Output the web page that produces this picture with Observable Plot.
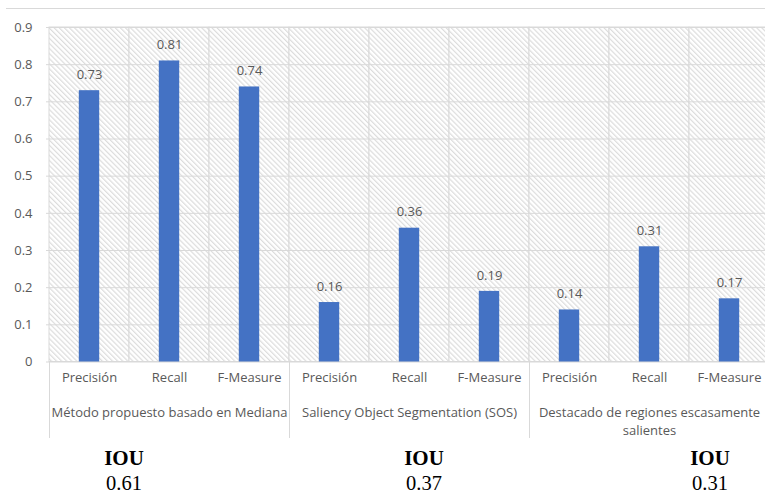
<!DOCTYPE html>
<html>
<head>
<meta charset="utf-8">
<script src="https://cdn.jsdelivr.net/npm/d3@7"></script>
<script src="https://cdn.jsdelivr.net/npm/@observablehq/plot@0.6"></script>
<style>
  html, body { margin: 0; padding: 0; background: #fff; overflow: hidden; }
  #wrap { position: relative; width: 765px; height: 495px; overflow: hidden; }
  #chart svg { max-width: none !important; display: block; }
  #topline { position: absolute; top: 8px; left: 6px; right: 0; height: 1px; background: #d9d9d9; }
  #iou { display: grid; grid-template-columns: 248px 352px 220px; font-family: "Liberation Serif", "Times New Roman", serif; color: #000; text-align: center; }
  #iou .head { font-weight: bold; font-size: 21px; line-height: 30px; margin-top: 3px; }
  #iou .val { font-size: 20.5px; line-height: 20px; margin-top: 0; }
</style>
</head>
<body>
<div id="wrap">
  <div id="chart"></div>
  <div id="iou"></div>
  <div id="topline"></div>
</div>
<script>
// Method groups and the three metrics reported for each
const groups = [
  "Método propuesto basado en Mediana",
  "Saliency Object Segmentation (SOS)",
  "Destacado de regiones escasamente salientes"
];
const metrics = ["Precisión", "Recall", "F-Measure"];

// Metric values per method
const valuesMediana = [0.73, 0.81, 0.74];
const valuesSOS = [0.16, 0.36, 0.19];
const valuesDestacado = [0.14, 0.31, 0.17];

// Intersection over union per method
const iouLabel = "IOU";
const iouValues = [0.61, 0.37, 0.31];

// Y axis tick values
const yTicks = [0, 0.1, 0.2, 0.3, 0.4, 0.5, 0.6, 0.7, 0.8, 0.9];

const series = [valuesMediana, valuesSOS, valuesDestacado];
const rows = groups.flatMap((g, i) =>
  metrics.map((m, j) => ({ key: `${i}-${j}`, group: g, gi: i, mi: j, metric: m, value: series[i][j] }))
);
const middleRows = rows.filter(d => d.mi === 1);
const firstRows = rows.filter(d => d.mi === 0);

const textColor = "#595959";
const gridColor = "#d9d9d9";
const barColor = "#4472C4";

const chart = Plot.plot({
  width: 772,
  height: 440,
  marginLeft: 46,
  marginRight: 1,
  marginTop: 27,
  marginBottom: 78.5,
  style: { fontFamily: "'Open Sans', sans-serif", fontSize: "13px", color: textColor, background: "transparent" },
  x: { type: "band", domain: rows.map(d => d.key), padding: 0, axis: null },
  y: { domain: [0, 0.9], axis: null },
  marks: [
    // hatched plot background, one cell per category with its border
    Plot.cell(rows, { x: "key", fill: "url(#hatch)", stroke: gridColor, strokeWidth: 1, inset: 0 }),
    Plot.ruleY(yTicks, { stroke: gridColor, strokeWidth: 1 }),
    Plot.axisY(yTicks, { label: null, tickSize: 0, tickPadding: 14, tickFormat: d3.format("~g"), fill: textColor, fontSize: 13 }),
    Plot.barY(rows, { x: "key", y: "value", fill: barColor, insetLeft: 29.8, insetRight: 29.8 }),
    Plot.text(rows, { x: "key", y: "value", text: d => d.value.toFixed(2), dy: -16, fill: textColor, fontSize: 13 }),
    Plot.text(rows, { x: "key", text: "metric", frameAnchor: "bottom", dy: 20, fill: textColor, fontSize: 13 }),
    Plot.text(middleRows, { x: "key", text: "group", frameAnchor: "bottom", dy: 42, lineAnchor: "top", lineWidth: 19.5, lineHeight: 1.38, fill: textColor, fontSize: 13 })
  ]
});

// hatch pattern for the plot area
d3.select(chart).insert("defs", ":first-child").html(
  `<pattern id="hatch" patternUnits="userSpaceOnUse" width="3.6" height="3.6" patternTransform="rotate(-45)">
     <rect width="3.6" height="3.6" fill="#ffffff"></rect>
     <rect x="0" y="0" width="1.2" height="3.6" fill="#dcdcdc"></rect>
   </pattern>`
);

// separators between method groups below the axis
const xs = chart.scale("x");
const bottom = 440 - 78.5;
d3.select(chart).append("g")
  .selectAll("line")
  .data(firstRows)
  .join("line")
  .attr("x1", d => xs.apply(d.key) + 0.5)
  .attr("x2", d => xs.apply(d.key) + 0.5)
  .attr("y1", bottom)
  .attr("y2", 438)
  .attr("stroke", gridColor)
  .attr("stroke-width", 1);

document.getElementById("chart").append(chart);

// IOU summary row
const iou = d3.select("#iou");
iou.selectAll("div.head").data(iouValues).join("div").attr("class", "head").text(iouLabel);
iou.selectAll("div.val").data(iouValues).join("div").attr("class", "val").style("grid-row", 2).style("grid-column", (d, i) => i + 1).text(d => d.toFixed(2));
</script>
</body>
</html>
